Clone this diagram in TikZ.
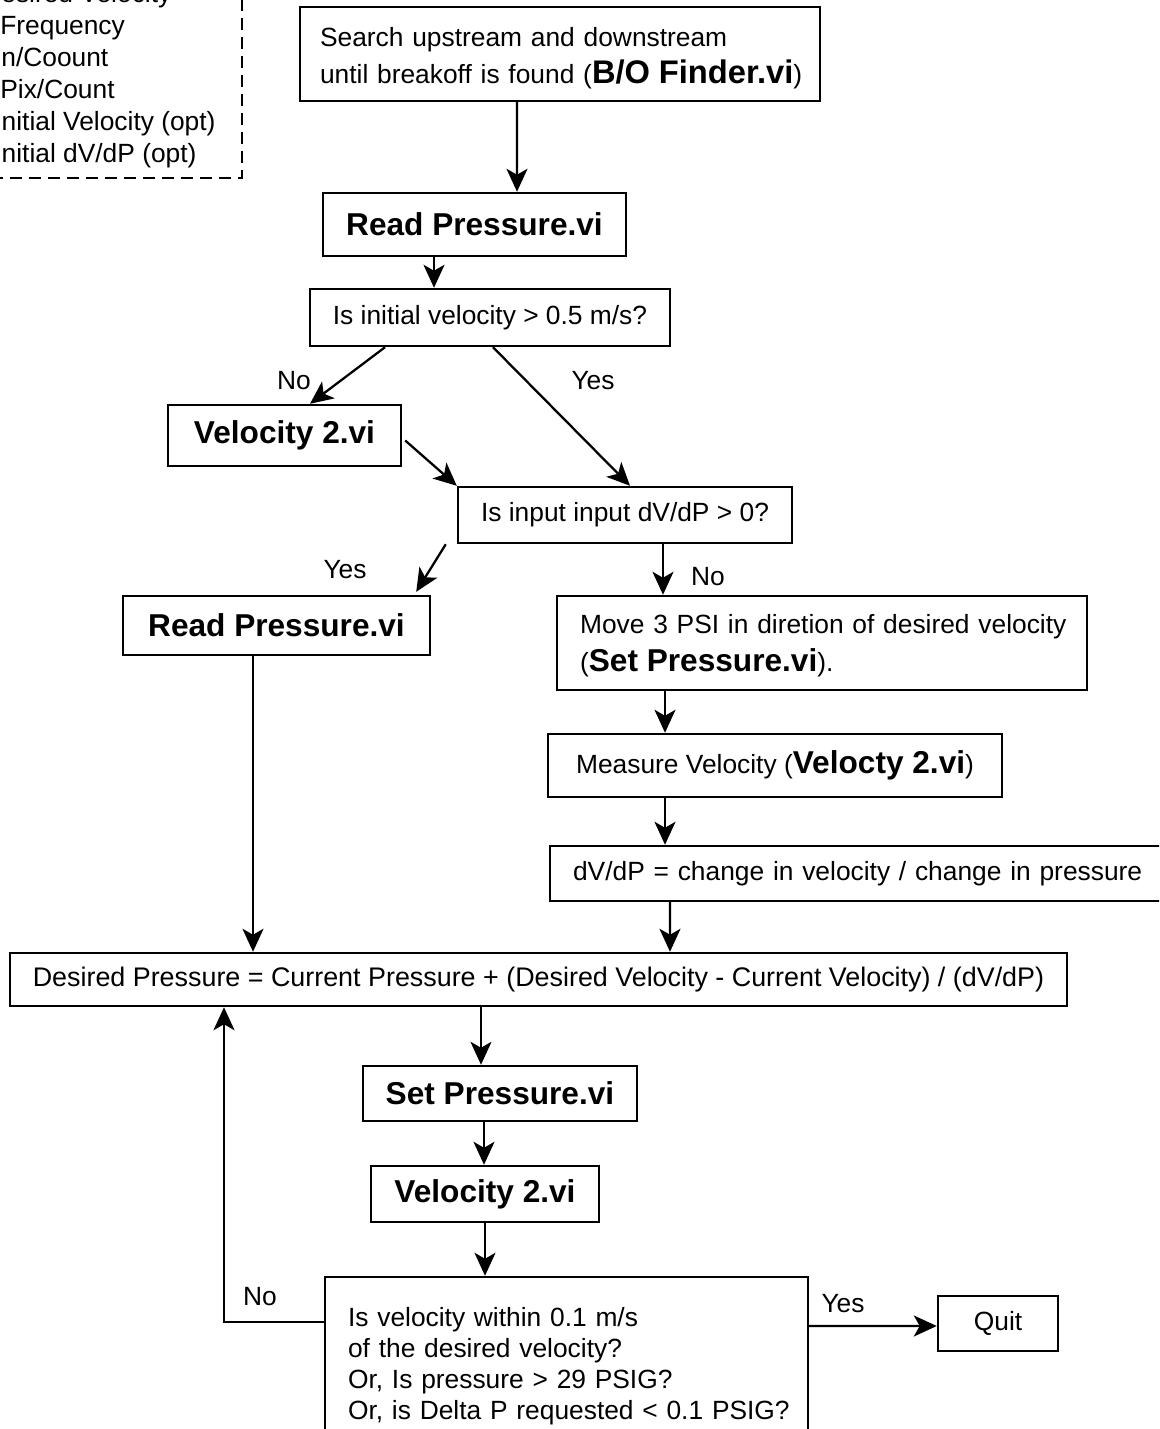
\documentclass[tikz,border=0pt]{standalone}
\usepackage{fontspec}
\setmainfont{Liberation Sans}
\usetikzlibrary{arrows.meta}

% bold sub-VI names
\newcommand{\viname}[1]{{\fontsize{18}{21}\selectfont\bfseries #1}}

\begin{document}
\begin{tikzpicture}[x=0.02cm, y=-0.02cm,
    every node/.style={font=\fontsize{15}{18}\selectfont},
    box/.style={draw, line width=1.4pt, inner sep=0pt, align=center},
    sz/.style 2 args={minimum width=#1*0.02cm, minimum height=#2*0.02cm},
    arr/.style={line width=1.3pt, -{Stealth[length=0.46cm, width=0.42cm, inset=0.12cm]}},
    inp/.style={anchor=base west, inner sep=0pt}]
    \useasboundingbox (0,0) rectangle (1159,1429);
    \clip (0,0) rectangle (1159,1429);

    % inputs
    \draw[line width=1.2pt, dash pattern=on 0.24cm off 0.14cm] (-20,-20) rectangle (242,178);
    \node[inp] (inDV) at (-18,3) {Desired Velocity};
    \node[inp] (inFr) at (0,35) {Frequency};
    \node[inp] (inCo) at (1,67) {n/Coount};
    \node[inp] (inPx) at (0,99) {Pix/Count};
    \node[inp] (inIV) at (-6,131) {Initial Velocity (opt)};
    \node[inp] (inID) at (-6,163) {Initial dV/dP (opt)};

    % boxes
    \node[box, sz={520}{94}, align=left, text width=9.6cm, inner xsep=0.4cm] (search) at (560,54)
        {\rule{0pt}{16pt}\mbox{Search upstream and downstream}\\[3pt]
         \mbox{until breakoff is found ({\fontsize{18.6}{21}\selectfont\bfseries B/O Finder.vi})}};
    \node[box, sz={303}{63}] (readA) at (474.5,224.5) {\viname{Read Pressure.vi}};
    \node[box, sz={360}{57}] (qvel) at (490,317.5) {Is initial velocity > 0.5 m/s?};
    \node[box, sz={233}{61}] (velA) at (284.5,435.5) {\viname{Velocity 2.vi}};
    \node[box, sz={334}{56}] (qdv) at (625,515) {Is input input dV/dP > 0?};
    \node[box, sz={307}{59}] (readB) at (276.5,625.5) {\viname{Read Pressure.vi}};
    \node[box, sz={530}{94}, align=left, text width=9.68cm, inner xsep=0.46cm] (move) at (822,643)
        {\rule{0pt}{14pt}\mbox{Move 3 PSI in diretion of desired velocity}\\[4pt]
         \mbox{(\viname{Set Pressure.vi}).}};
    \node[box, sz={454}{63}] (meas) at (775,765.5) {Measure Velocity (\viname{Velocty 2.vi})};
    \node[box, sz={620}{55}, align=left, text width=11.48cm, inner xsep=0.46cm] (dvdp) at (860,873.5)
        {\mbox{dV/dP = change in velocity / change in pressure}};
    \node[box, sz={1057}{53}, font=\fontsize{15.3}{18}\selectfont] (des) at (538.5,979.5)
        {Desired Pressure = Current Pressure + (Desired Velocity - Current Velocity) / (dV/dP)};
    \node[box, sz={274}{55}] (setp) at (500,1093.5) {\viname{Set Pressure.vi}};
    \node[box, sz={228}{56}] (velB) at (485,1194) {\viname{Velocity 2.vi}};
    \node[box, sz={483}{179}, align=left, text width=8.74cm, inner xsep=0.46cm,
          font=\fontsize{15}{17.6}\selectfont] (fin) at (566.5,1366.5)
        {\mbox{Is velocity within 0.1 m/s}\\ \mbox{of the desired velocity?}\\
         \mbox{Or, Is pressure > 29 PSIG?}\\ \mbox{Or, is Delta P requested < 0.1 PSIG?}};
    \node[box, sz={120}{55}] (quit) at (998,1323.5) {Quit};

    % branch labels
    \node (noA) at (294,381) {No};
    \node (yesA) at (593,381) {Yes};
    \node (yesB) at (345,570) {Yes};
    \node (noB) at (708,577) {No};
    \node (noC) at (260,1297) {No};
    \node (yesC) at (843,1304) {Yes};

    % arrows
    \draw[arr] ([shift={(-43,0)}]search.south) -- ([shift={(42.5,0)}]readA.north);
    \draw[arr] ([shift={(-40.5,0)}]readA.south) -- ([shift={(-56,0)}]qvel.north);
    \draw[arr] ([shift={(-105,0)}]qvel.south) -- ([shift={(25.5,0)}]velA.north);
    \draw[arr] ([shift={(3,0)}]qvel.south) -- ([shift={(5,0)}]qdv.north);
    \draw[arr] ([shift={(3,5)}]velA.east) -- (qdv.north west);
    \draw[arr] ([shift={(-11,0)}]qdv.south west) -- ([shift={(-15,-3)}]readB.north east);
    \draw[arr] ([shift={(38,0)}]qdv.south) -- ([shift={(-159,0)}]move.north);
    \draw[arr] ([shift={(-157,0)}]move.south) -- ([shift={(-110,0)}]meas.north);
    \draw[arr] ([shift={(-110,0)}]meas.south) -- ([shift={(-195,0)}]dvdp.north);
    \draw[arr] ([shift={(-190,0)}]dvdp.south) -- ([shift={(131.5,0)}]des.north);
    \draw[arr] ([shift={(-23.5,0)}]readB.south) -- ([shift={(-285.5,0)}]des.north);
    \draw[arr] ([shift={(-57.5,0)}]des.south) -- ([shift={(-19,0)}]setp.north);
    \draw[arr] ([shift={(-16,0)}]setp.south) -- ([shift={(-1,0)}]velB.north);
    \draw[arr] (velB.south) -- ([shift={(-81.5,0)}]fin.north);
    \draw[arr] ([shift={(0,-40.5)}]fin.east) -- ([shift={(0,2.5)}]quit.west);
    \draw[arr] ([shift={(0,-44.5)}]fin.west) -| ([shift={(-314.5,0)}]des.south);
\end{tikzpicture}
\end{document}
